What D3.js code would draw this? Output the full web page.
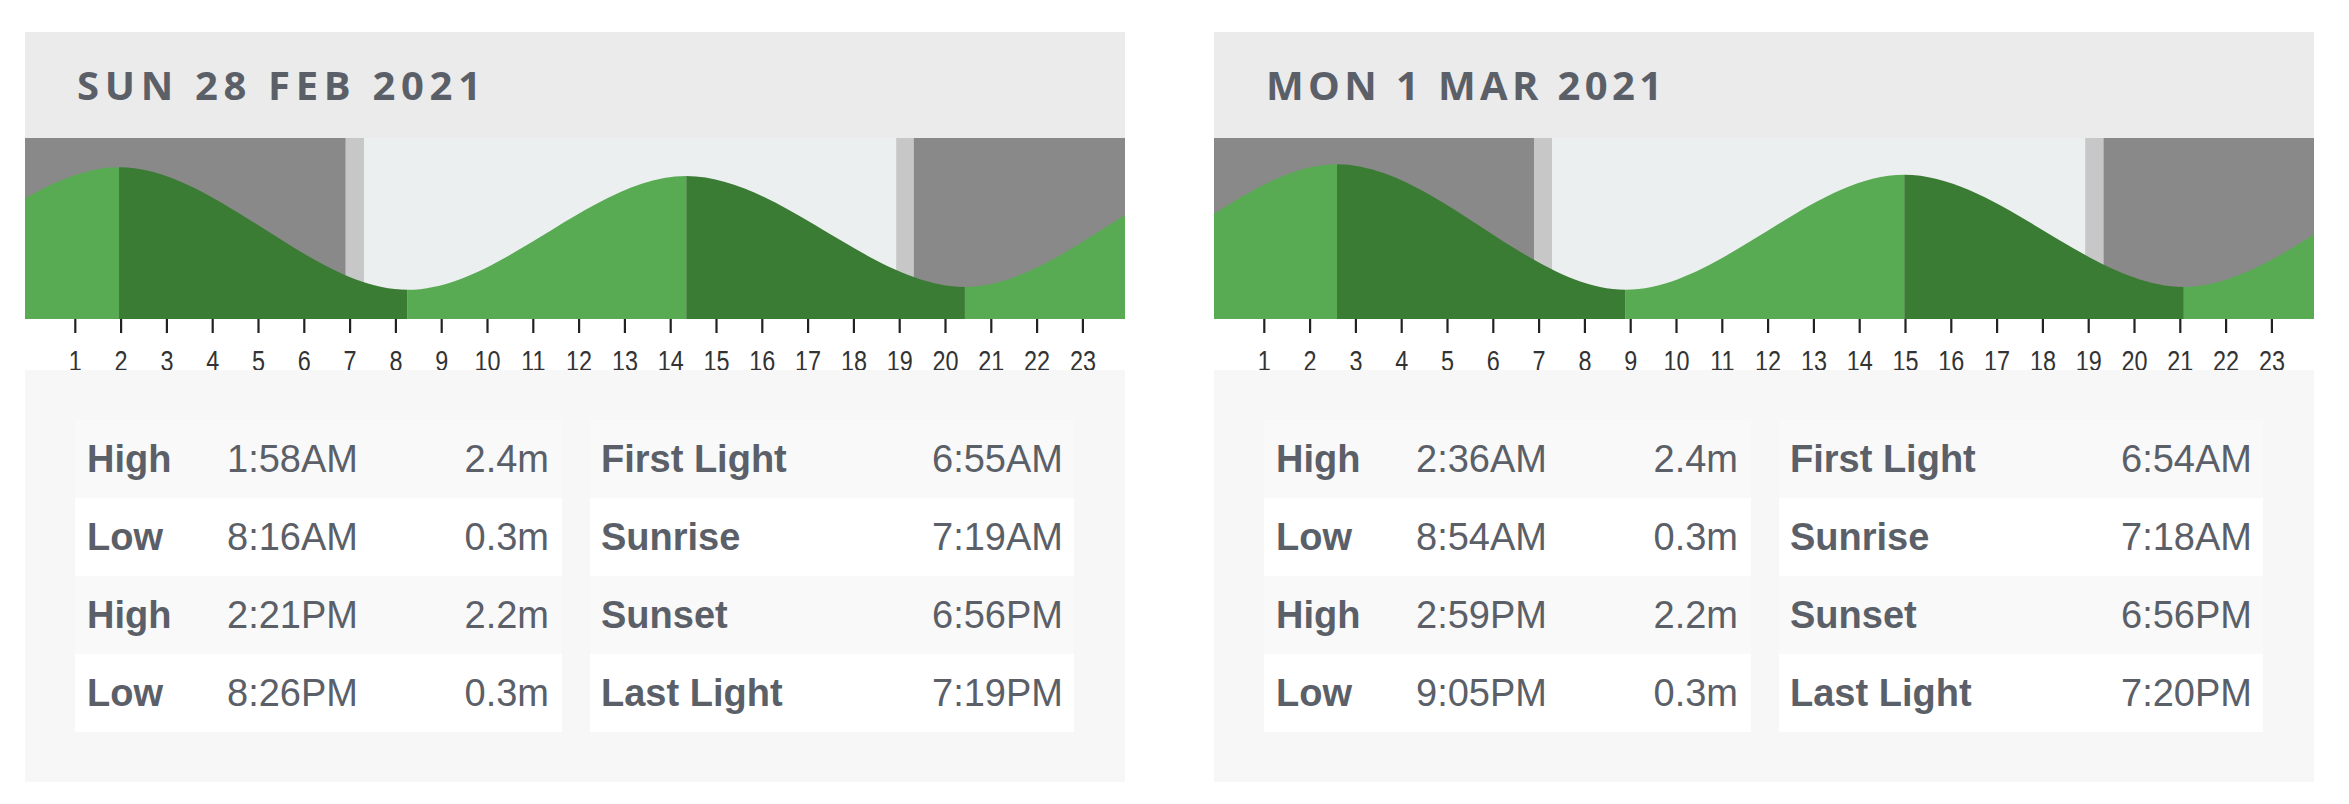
<!DOCTYPE html>
<html>
<head>
<meta charset="utf-8">
<script src="https://cdnjs.cloudflare.com/ajax/libs/d3/7.8.5/d3.min.js"></script>
<style>
  html, body { margin: 0; padding: 0; background: #ffffff; }
  svg { display: block; }
</style>
</head>
<body>
<div id="chart"></div>
<script>
// ---- data ----
var dayTitles = ["SUN 28 FEB 2021", "MON 1 MAR 2021"];

var tideTypes = ["High", "Low", "High", "Low"];
var tideTimes = [
    ["1:58AM", "8:16AM", "2:21PM", "8:26PM"],
    ["2:36AM", "8:54AM", "2:59PM", "9:05PM"]
];
var tideHeightLabels = [
    ["2.4m", "0.3m", "2.2m", "0.3m"],
    ["2.4m", "0.3m", "2.2m", "0.3m"]
];
// heights of the four extremes as they sit on the drawn curve (metres)
var tideCurveHeights = [
    [2.4, 0.3, 2.25, 0.35],
    [2.45, 0.3, 2.27, 0.35]
];
// neighbouring-day extremes so the curve runs off both edges: [hour, height]
var prevExtremes = [
    [[-10.5, 2.3], [-4.25, 0.3]],
    [[-9.65, 2.25], [-3.57, 0.35]]
];
var nextExtremes = [
    [[26.6, 2.4], [32.9, 0.3]],
    [[27.3, 2.4], [33.6, 0.3]]
];

var sunLabels = ["First Light", "Sunrise", "Sunset", "Last Light"];
var sunTimes = [
    ["6:55AM", "7:19AM", "6:56PM", "7:19PM"],
    ["6:54AM", "7:18AM", "6:56PM", "7:20PM"]
];

var hourTicks = [1, 2, 3, 4, 5, 6, 7, 8, 9, 10, 11, 12, 13, 14, 15, 16, 17, 18, 19, 20, 21, 22, 23];

// ---- layout ----
var W = 2349, H = 804;
var panelX = [25, 1214], panelW = 1100;
var headTop = 32, chartTop = 138, chartBottom = 319, lowerTop = 370, lowerBottom = 782;
var rowTop = 420, rowH = 78;
var textColor = "#5b6068";
var col = {
    header: "#ebebeb", lower: "#f7f7f7", rowA: "#f9f9f9", rowB: "#ffffff",
    night: "#898989", twilight: "#c7c7c7", day: "#eceff0",
    falling: "#3a7c33", rising: "#58aa53"
};

function toHours(s) {
    var m = s.match(/(\d+):(\d+)(AM|PM)/);
    var h = (+m[1]) % 12;
    if (m[3] === "PM") h += 12;
    return h + (+m[2]) / 60;
}

var svg = d3.select("#chart").append("svg")
    .attr("width", W)
    .attr("height", H);

var defs = svg.append("defs");

dayTitles.forEach(function (title, i) {
    var g = svg.append("g").attr("transform", "translate(" + panelX[i] + ",0)");

    var x = d3.scaleLinear().domain([0, 24]).range([4, 4 + 45.8 * 24]);
    var y = d3.scaleLinear().domain([-0.2, 2.9]).range([chartBottom, chartTop]);

    // header
    g.append("rect")
        .attr("x", 0).attr("y", headTop)
        .attr("width", panelW).attr("height", chartTop - headTop)
        .attr("fill", col.header);

    g.append("text")
        .attr("x", 52).attr("y", 100)
        .attr("textLength", i === 0 ? 404 : 396)
        .attr("lengthAdjust", "spacing")
        .style("font-family", "'Open Sans', 'DejaVu Sans', sans-serif")
        .style("font-weight", 700)
        .style("font-size", "40px")
        .style("fill", textColor)
        .text(title);

    // clip to the chart strip
    defs.append("clipPath").attr("id", "chartClip" + i)
        .append("rect")
        .attr("x", 0).attr("y", chartTop)
        .attr("width", panelW).attr("height", chartBottom - chartTop);

    var chart = g.append("g").attr("clip-path", "url(#chartClip" + i + ")");

    // light bands
    var sun = sunTimes[i].map(toHours);
    var bands = [
        {from: -1, to: sun[0], c: col.night},
        {from: sun[0], to: sun[1], c: col.twilight},
        {from: sun[1], to: sun[2], c: col.day},
        {from: sun[2], to: sun[3], c: col.twilight},
        {from: sun[3], to: 25, c: col.night}
    ];
    chart.selectAll("rect.band")
        .data(bands).enter().append("rect")
        .attr("class", "band")
        .attr("x", function (d) { return x(d.from); })
        .attr("y", chartTop)
        .attr("width", function (d) { return x(d.to) - x(d.from); })
        .attr("height", chartBottom - chartTop)
        .attr("fill", function (d) { return d.c; });

    // tide curve
    var pts = prevExtremes[i].slice();
    tideTimes[i].forEach(function (t, k) {
        pts.push([toHours(t), tideCurveHeights[i][k]]);
    });
    pts = pts.concat(nextExtremes[i]);

    var area = d3.area()
        .x(function (d) { return x(d[0]); })
        .y0(chartBottom + 2)
        .y1(function (d) { return y(d[1]); })
        .curve(d3.curveMonotoneX);

    defs.append("clipPath").attr("id", "tideClip" + i)
        .append("path")
        .attr("d", area(pts));

    var segs = [];
    for (var k = 0; k < pts.length - 1; k++) {
        segs.push({from: pts[k][0], to: pts[k + 1][0], falling: pts[k + 1][1] < pts[k][1]});
    }

    chart.append("g")
        .attr("clip-path", "url(#tideClip" + i + ")")
        .selectAll("rect")
        .data(segs).enter().append("rect")
        .attr("x", function (d) { return x(d.from); })
        .attr("y", chartTop)
        .attr("width", function (d) { return x(d.to) - x(d.from); })
        .attr("height", chartBottom - chartTop + 2)
        .attr("fill", function (d) { return d.falling ? col.falling : col.rising; });

    // hour axis
    var axis = g.append("g")
        .attr("transform", "translate(0," + chartBottom + ")")
        .call(d3.axisBottom(x).tickValues(hourTicks).tickSize(14).tickFormat(d3.format("d")));
    axis.select(".domain").remove();
    axis.selectAll(".tick line")
        .attr("stroke", "#222")
        .attr("stroke-width", 2.2);
    axis.selectAll(".tick text")
        .attr("y", 52)
        .attr("dy", null)
        .attr("transform", "scale(0.78,1)")
        .style("font-family", "'Liberation Sans', Arial, sans-serif")
        .style("font-size", "30px")
        .style("fill", "#333");

    // lower box (sits over the foot of the hour labels)
    g.append("rect")
        .attr("x", 0).attr("y", lowerTop)
        .attr("width", panelW).attr("height", lowerBottom - lowerTop)
        .attr("fill", col.lower);

    var tables = [
        {x0: 50, w: 487},
        {x0: 565, w: 484}
    ];
    tables.forEach(function (t) {
        g.append("g").selectAll("rect")
            .data(tideTypes).enter().append("rect")
            .attr("x", t.x0)
            .attr("y", function (d, r) { return rowTop + r * rowH; })
            .attr("width", t.w)
            .attr("height", rowH)
            .attr("fill", function (d, r) { return r % 2 === 0 ? col.rowA : col.rowB; });
    });

    var font = "'Liberation Sans', Arial, sans-serif";
    function cell(sel, xPos, anchor, bold, accessor) {
        sel.append("text")
            .attr("x", xPos)
            .attr("y", function (d, r) { return rowTop + r * rowH + 52; })
            .attr("text-anchor", anchor)
            .style("font-family", font)
            .style("font-size", "38px")
            .style("font-weight", bold ? 700 : 400)
            .style("fill", textColor)
            .text(accessor);
    }

    var tideRows = g.append("g").selectAll("g")
        .data(tideTypes).enter().append("g");
    cell(tideRows, 62, "start", true, function (d) { return d; });
    cell(tideRows, 202, "start", false, function (d, r) { return tideTimes[i][r]; });
    cell(tideRows, 524, "end", false, function (d, r) { return tideHeightLabels[i][r]; });

    var sunRows = g.append("g").selectAll("g")
        .data(sunLabels).enter().append("g");
    cell(sunRows, 576, "start", true, function (d) { return d; });
    cell(sunRows, 1038, "end", false, function (d, r) { return sunTimes[i][r]; });
});
</script>
</body>
</html>
